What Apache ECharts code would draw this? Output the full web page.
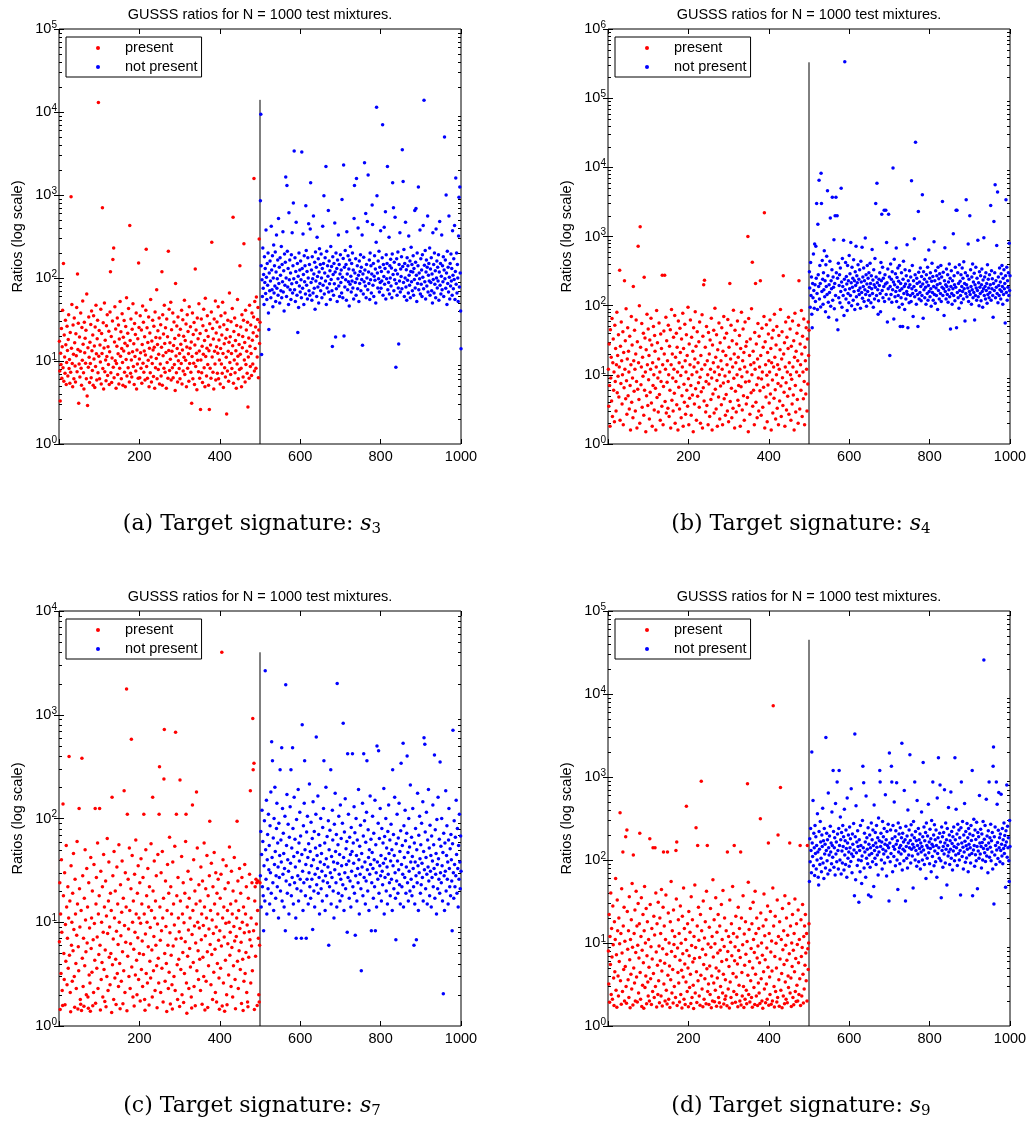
<!DOCTYPE html>
<html><head><meta charset="utf-8">
<script src="https://cdn.jsdelivr.net/npm/echarts@6/dist/echarts.min.js"></script>
<style>html,body{margin:0;padding:0;background:#fff}#c{width:1031px;height:1124px}</style>
</head><body><div id="c"></div><script>
// ---- data (x = test mixture index) ----
// (a) target s3 : present = mixtures 1..500, not present = 501..1000
const aPresent=[
17.3,7.6,3.3,12.4,9.1,24.6,6.2,14.8,41,8.3,150,5.7,20.5,11.2,7.1,31,15.7,5.2,9.6,26.3,13.4,6.6,18.2,36,8.1,
10.4,5.4,22.1,7.3,950,14.2,48,9.3,4.9,27.2,12.1,6.1,33,16.6,8.7,5.6,21.3,11.6,44,7.4,112,13.8,28.5,3.1,9.2,
19.4,6.4,13.1,38,8.2,5.1,25.3,10.2,53,15.9,7.2,4.6,29.4,12.6,18.8,9.4,23.4,6.1,64,3.8,2.9,14.4,8.4,34,11.1,
5.5,16.8,9.3,27.6,6.3,40,13.3,7.7,20.6,5.1,35,10.6,15.2,4.8,25.6,8.6,47,12.2,5.9,18.6,31,7.2,13000,11.4,23.3,
6.1,15.6,9.7,42,5.3,21.4,12.3,700,8.1,28.8,4.6,14.3,50,7.4,17.8,10.3,5.8,26.6,11.3,36,6.7,14.9,9.1,22.8,5.2,
12.9,39,119,7.2,19.7,5.5,10.9,30.3,167,8.4,230,6.3,16.9,45,10.1,24.3,4.7,9.3,15.1,33,6.9,12.2,27.1,5.3,18.4,
8.2,52,11.4,22.5,6.1,14.1,37,9.6,5.1,19.3,13.2,30.7,7.3,16.4,4.9,26.1,10.4,58,6.6,15.3,21.6,8.3,43,12.4,5.6,
430,17.6,7.1,32,10.3,6.4,24.2,12.9,49,8.6,16.1,5.2,28.3,11.3,20.9,7.6,38,4.6,13.6,9.2,18.5,6.2,152,25.4,10.6,
6.3,35,12.6,8.2,23.6,5.4,15.8,46,9.4,29.2,7.3,13.2,19.6,5.9,11.8,41,222,8.6,25.1,6.2,16.7,10.2,34,4.9,14.2,
21.7,7.2,55,11.2,5.6,17.4,9.3,31,13.6,6.5,26.2,14.6,4.7,39,8.3,19.2,10.7,72,6.1,15.8,23.1,7.9,12.1,33,5.3,
18.9,9.2,27.3,6.6,14.6,119,5.1,36,11.6,21.2,8.2,47,16.2,7.3,25.2,12.7,4.7,32,9.6,19.6,6.2,210,13.4,42,7.7,
16.6,10.5,51,5.9,23.8,13.1,8.3,38,6.3,15.4,29.6,9.1,18.7,4.4,86,11.5,7.2,26.4,14.1,5.6,34,10.1,20.4,8.1,12.3,
6.1,24.1,15.9,9.3,41,5.3,13.6,31.4,7.6,19.9,11.1,54,6.9,17.6,10.2,27.9,4.9,14.7,36,8.2,22.6,12.2,5.7,45,9.3,
14.2,25.8,7.3,16.9,3.1,11.3,38,6.1,20.8,9.4,29.1,5.2,15.6,128,8.6,23.7,12.4,4.5,33,10.2,18.5,7.4,49,13.2,6.2,
21.4,2.6,10.3,32,7.2,15.1,5.5,26.6,12.1,42,8.3,17.7,4.9,57,11.3,23.3,6.6,14.2,35,9.1,19.7,5.1,13.3,2.6,28.1,
8.2,15.6,6.2,39,270,11.2,24.7,7.3,18.4,4.6,32,13.1,9.2,53,5.9,21.7,14.9,29.5,7.1,12.4,45,6.1,17.9,10.3,25.7,
5.3,14.1,35,9.2,20.6,7.1,51,12.3,4.8,27.4,16.1,8.3,38,6.4,18.8,11.1,2.3,23.9,7.6,31,13.1,5.7,16.8,66,9.6,
19.6,6.9,29.8,12.3,8.1,43,15.3,540,5.4,22.6,10.3,33,7.2,17.6,13.3,4.7,26.8,9.2,55,11.4,6.1,20.7,15.8,7.9,140,
12.1,25.6,8.2,4.9,36,14.4,19.8,6.4,31,258,10.3,16.7,5.6,41,9.1,23.6,13.1,7.1,29.3,2.8,11.2,18.9,6.2,47,15.1,
8.6,27.1,12.3,6.7,38,17.8,9.2,21.9,34,1580,7.6,52,14.1,25.6,8.2,59,19.9,11.2,31.6,44,6.3,23.6,295,16.2,29.2];
const aNotPresent=[
850,9400,140,12,95,60,230,75,110,48,180,88,130,65,380,102,55,150,82,200,38,24,115,70,160,
92,58,420,125,72,185,45,100,250,66,140,80,205,52,118,330,75,98,165,62,520,86,135,50,175,
108,70,240,58,145,90,360,68,122,40,195,82,155,1650,100,60,1300,210,78,130,48,610,95,165,72,
115,55,190,85,350,66,140,800,98,3400,72,175,52,120,470,88,62,150,22,105,44,200,80,125,68,
160,95,58,3300,130,75,340,110,48,185,90,140,64,740,215,82,120,56,175,100,450,70,145,62,390,
1400,88,125,54,180,98,66,560,112,75,155,42,205,92,135,60,310,104,78,170,50,118,225,86,145,
70,195,100,58,130,420,82,150,980,64,115,175,92,2200,48,210,76,140,105,650,68,160,85,122,55,
240,96,138,70,15,180,110,62,150,85,460,118,19.5,200,74,130,52,165,98,330,80,145,60,112,190,
88,125,66,880,102,58,172,2300,20,135,78,215,95,145,54,360,112,72,185,90,128,46,165,84,240,
105,68,150,92,200,76,125,56,520,1300,115,88,170,62,1580,98,140,74,400,108,52,160,86,120,190,
70,135,96,330,15.5,112,64,178,90,2450,125,80,600,58,145,100,480,72,1740,118,86,165,55,200,95,
140,66,112,760,440,82,150,60,105,185,94,128,50,270,11400,980,115,76,160,98,210,68,135,88,370,
75,120,92,175,7000,62,145,104,410,84,130,630,56,190,98,150,2200,72,118,88,310,64,140,100,168,
80,132,58,195,1400,110,700,70,155,95,540,124,8.4,86,170,62,112,205,76,16,145,92,350,68,128,
104,180,74,3500,138,1450,88,220,60,150,100,470,78,126,54,175,94,140,66,320,108,82,160,58,120,
235,90,145,70,118,185,62,130,96,650,76,155,690,108,52,200,86,140,1250,72,115,98,380,64,170,
84,125,60,190,102,430,74,13900,142,90,215,56,118,165,80,135,560,68,108,150,92,230,62,128,88,
175,70,112,50,350,96,145,66,200,84,122,58,390,100,160,76,135,92,190,54,118,480,82,150,64,
105,330,72,140,90,180,60,125,5000,98,165,75,1000,115,48,210,86,135,68,560,102,56,150,80,195,
92,130,62,370,108,74,170,96,430,55,120,1600,84,200,66,145,100,52,320,940,78,1250,115,40,14];
// (b) target s4
const bPresent=[
12,3.5,28,7,1.8,45,9,18,4.2,65,2.5,15,33,6,11,2.1,52,8,24,3,14,80,5.5,19,9.5,
38,4.8,13,325,2.2,26,7.5,58,16,3.8,10,42,1.9,21,6.5,230,12,31,4.5,90,8.2,2.7,17,48,5,
22,11,3.2,36,7,1.6,14,70,4,27,9,2.4,190,16,5.8,44,12,3,20,62,8,1.7,30,6.2,720,
15,4.4,100,2,1380,25,7.2,13,55,3.4,18,9.5,40,2.6,257,6,34,11,1.5,23,5,75,14,3.6,46,
8.5,19,2.3,32,5.6,12,66,3.9,27,1.8,15,7,50,10,3.1,37,22,6.4,1.6,13,85,4.7,29,9,2.9,
17,56,5.2,11,2.2,39,8,24,3.5,275,14,1.9,6.8,43,20,275,4.1,12,68,2.8,31,7.8,16,3.3,52,
10,2.5,26,6,45,1.7,14,88,4.3,20,9,3,35,12,5.4,72,2,18,8,40,3.7,25,11,1.6,60,
6.6,15,3.2,47,21,9.8,2.4,33,5,13,78,1.8,24,7.3,4,54,16,2.7,11,38,6,19,3.5,95,8.8,
1.9,28,4.6,14,62,7,2.6,35,10,5.1,22,1.5,48,13,3.8,17,82,6.3,26,2.2,11,42,4.9,15,7.7,
30,3.4,58,9.2,2,19,5.7,12,74,1.7,36,6.5,200,4.2,233,14,25,2.9,8,50,3.6,16,10,1.9,41,
7.4,20,2.5,32,12,4.4,66,9,1.6,27,5.3,15,44,2.8,11,92,6.2,18,3.2,38,8.3,1.8,23,13,4.8,
56,10,2.3,29,6.9,16,3.7,48,12,1.9,22,7.6,70,4.5,34,9.6,2.6,19,5.2,40,14,3,63,8,2.1,
25,11,210,4.1,17,52,6.4,2.4,31,13,3.3,86,8.9,20,1.7,44,5.8,15,2.9,28,10,60,4.3,18,7,
3.6,37,12,1.8,24,6.7,80,9.4,3.1,16,46,5,21,2.2,13,58,7.9,26,3.8,30,11,4.7,1000,1.5,65,
8.1,19,2.7,33,14,5.5,90,10,425,3.5,22,6,15,1.9,41,12,210,4,28,7.2,2.4,17,55,9,3,
36,13,5.9,230,19,2.6,8.7,47,11,3.4,25,6.6,70,2200,1.7,30,14,4.8,53,9.9,2.1,21,7.1,39,16,
3.9,11,62,5.3,24,1.6,15,34,8.4,2.8,44,13,4.6,75,18,6.1,2.3,27,10,50,3.3,14,7.5,1.9,37,
12,4.2,23,88,6.9,2.5,17,42,9.1,3.6,270,20,5.6,29,1.8,13,58,7.7,3.1,35,11,4.9,24,68,2.7,
15,6.3,46,10,2.2,26,8.6,3.8,60,13,5.1,31,1.6,18,78,7,2.9,22,11,40,4.4,16,2,52,230,
9.7,3.2,28,14,6,85,20,2.5,36,11,4.5,64,8,1.9,25,16,5.3,48,12,3,33,7.4,58,19,44];
const bNotPresent=[
310,180,95,420,140,260,75,48,210,130,560,165,92,780,200,115,720,250,3000,150,88,1500,280,190,6500,
125,380,210,96,8200,3000,160,450,240,105,300,170,620,135,230,82,390,190,520,145,4600,270,112,68,200,
155,440,1850,98,230,175,330,3700,120,260,185,900,90,210,2000,140,3700,300,62,2000,250,45,410,130,195,
280,110,350,160,5000,220,95,480,190,140,880,72,240,335000,170,420,125,265,205,85,380,150,230,110,530,
175,290,140,820,215,100,360,185,250,120,460,160,230,88,310,195,720,135,270,215,105,390,165,240,145,
330,180,92,440,220,155,700,128,260,190,350,115,230,170,950,145,280,98,205,380,160,250,120,300,185,
140,410,210,110,270,175,650,150,235,95,330,200,125,480,185,3000,260,140,5900,215,170,75,118,240,195,
300,150,82,420,230,2100,165,360,130,250,190,2400,115,280,205,2400,145,820,215,58,340,175,2100,125,260,
19,190,400,145,240,112,310,170,9800,220,64,470,200,135,290,160,680,115,255,185,350,140,225,95,380,
165,50,210,130,300,175,105,50,240,440,150,190,88,330,205,125,270,160,760,145,48,230,185,110,320,
200,140,260,115,6400,175,380,150,70,230,190,930,135,280,23000,165,105,250,210,145,50,2300,305,125,220,
155,350,190,118,265,140,4000,205,66,310,170,240,130,460,185,105,280,220,150,360,120,195,640,160,250,
135,300,175,98,225,410,155,265,120,190,840,145,230,108,320,180,140,270,200,88,360,165,245,125,290,
210,150,380,115,260,185,3200,140,305,175,72,230,690,160,200,125,340,190,145,280,112,220,170,400,135,
250,46,190,320,150,105,230,175,1100,140,270,200,118,360,185,2400,48,2400,155,300,130,210,92,390,165,
225,140,280,110,190,350,160,250,125,430,175,210,60,300,150,3400,200,135,270,180,780,115,240,160,2000,
145,330,190,105,260,170,400,130,220,155,295,62,200,140,360,180,120,250,165,880,135,215,100,310,185,
150,270,118,200,340,160,95,235,175,960,140,260,190,125,300,165,210,108,390,145,240,180,130,280,155,
200,2800,120,320,175,245,140,68,210,1650,165,300,5600,130,230,185,740,150,4400,110,260,195,140,350,170,
220,125,290,160,380,190,105,250,145,330,175,210,56,270,3400,155,360,120,230,185,300,140,800,165,270];
// (c) target s7
const cPresent=[
6.5,24,1.44,12,3.2,40,8,2.2,1.58,138,18,5,2.8,30,1.6,9.5,4.2,55,14,2.5,7,22,3.6,11,395,
4.8,16,2.1,1.37,35,6,10,2.7,19,5.3,46,8.5,3,1.52,26,12,4,2.3,7.5,60,15,1.46,5.8,3.4,125,
21,9,1.8,1.62,13,1.41,380,4.5,28,2.4,7,1.55,17,3.8,50,10.5,5.2,2,33,6.3,14,1.9,1.48,24,3.1,
8.8,2.6,1.39,42,5.6,11,3.3,20,1.57,6.8,2.1,36,9.7,4.3,125,1.66,15,27,3.6,7.2,58,2.3,12,4.9,18,
125,6,1.43,31,2.8,10,4.1,22,1.9,8,45,3.5,14,1.72,5.4,25,1.53,11.5,3,64,7.8,2.2,16,38,4.6,
9,2.5,19,5,13,1.35,160,3.9,28,6.9,1.8,48,11,2.9,20,4.4,1.61,8.2,34,3.2,15,6.1,2.4,56,10,
4,1.47,23,7.4,2.7,12.5,39,5.2,1.64,17,3.4,185,9.3,2.1,30,6.4,14,1770,1.4,110,4.7,26,8.6,3,52,
13,2.3,6.2,21,580,3.7,44,10,1.9,16,5.5,1.56,29,8,3.1,62,12,4.3,2,19,7.1,35,2.8,11,5,
24,1.74,9.8,41,3.5,15,6.6,2.4,27,4.9,110,12,1.8,1.42,7.7,50,3.2,18,10,2.6,33,5.8,14,1.59,22,
4.2,8.9,2.9,57,13,5.4,1.9,160,20,3.4,7.3,39,11,2.2,16,6,28,3.8,1.5,9.6,45,4.5,2.6,110,315,
14,6.7,2.1,30,8.3,3.6,48,11,1.7,17,240,720,5,2.7,25,9.1,4,1.38,13,36,6,2.3,19,3.3,66,
7.9,1.63,22,4.8,12,2.5,1.46,38,5.9,15,3,9.4,54,2.2,680,6.9,110,18,3.9,1.8,27,11,4.4,8.1,1.54,
235,16,3.5,7,43,2,12,5.1,24,1.68,9.9,3.2,19,6.5,60,110,2.6,1.33,14,4.7,31,8.4,2.3,17,5.6,
11,3.7,26,1.9,1.49,7.6,135,13,4.1,40,2.4,9.2,20,1.57,6.3,15,180,3.4,52,10,5.3,2.8,23,8.8,4.4,
16,2.2,34,6.8,12,1.62,25,4.6,9.3,3,58,14,1.43,7.4,21,2.7,11,44,5.2,1.51,18,3.8,8.6,28,94,
6.1,13,2.5,37,4.9,10.5,1.8,22,7.8,3.3,47,15,5.5,2.1,30,9,1.7,19,4,12,26,6.7,2.9,1.45,8.3,
17,3.6,29,5.9,4000,1.56,11,40,2.6,14,7.2,1.39,21,4.3,9.8,35,2,1.6,13,6.2,24,3.1,10,53,4.8,
8,15,2.4,31,5.7,12,1.9,20,3.8,9.1,42,6.6,2.8,1.47,16,7.3,11,94,4.2,25,2.3,13,5.3,33,8.7,
3.5,19,6.4,1.65,27,10,4.4,1.41,14,2.7,7.9,36,3.2,12,5.1,22,2.1,9.4,1.7,1.53,17,4.6,8.1,29,6.8,
185,2.6,11,5.9,24,3.4,920,295,8.3,340,1.44,16,22,4.7,26,9.6,24,1.58,13,25,7,2,1.7,6,24];
const cNotPresent=[
28,75,14,45,120,22,60,18,8.3,35,95,16,2650,50,26,150,12,40,70,21,110,32,55,15,85,
30,180,19,550,42,360,24,65,13,100,36,200,48,17,28,80,140,22,58,34,11,90,27,44,295,
20,62,38,480,16,125,29,72,46,14,33,105,8.3,1950,25,55,170,19,40,88,31,12,66,23,130,
37,295,18,52,27,480,80,15,43,160,24,63,34,11,7,98,21,47,28,190,16,58,39,115,26,
68,20,7,45,800,31,13,85,24,140,360,50,18,36,7,74,26,105,42,15,57,30,215,22,48,
17,92,35,26,64,8.5,145,40,20,75,14,29,52,110,610,23,44,33,165,19,70,27,12,55,38,
100,21,46,31,16,82,25,125,360,36,58,13,28,200,41,18,67,24,34,95,6,50,22,77,30,
295,15,43,27,120,62,20,38,11,88,32,175,48,24,70,14,2000,37,56,19,105,29,45,16,135,
26,64,35,18,90,23,830,42,13,74,30,155,21,51,36,60,8,420,27,110,39,17,66,25,45,
14,82,31,48,420,22,58,37,130,19,73,7.5,28,100,44,16,62,33,24,190,40,12,54,29,86,
21,3.4,46,34,140,18,68,420,27,95,38,15,59,25,115,360,32,20,78,42,13,50,29,165,36,
63,8.3,24,47,105,33,17,72,40,22,150,8.3,56,30,14,500,38,26,90,450,19,64,35,125,28,
44,16,80,31,23,58,37,195,12,67,27,41,100,20,52,34,15,75,29,135,46,24,62,18,39,
88,26,50,13,295,35,70,21,44,160,30,17,6.8,57,25,110,39,19,65,32,140,23,48,15,76,
340,36,22,55,29,530,14,85,42,27,120,61,19,34,72,400,24,47,16,100,31,53,20,210,38,
26,66,18,43,125,33,22,6,58,15,38,80,28,6.8,50,24,175,35,13,69,30,105,41,19,56,
23,90,37,27,145,16,48,600,32,520,74,21,42,115,29,15,62,34,190,25,52,18,86,31,44,
14,68,27,39,135,22,56,33,410,17,78,29,46,12,98,36,21,160,41,26,63,19,350,30,54,
24,100,35,16,47,2.05,72,28,13,58,31,185,20,44,85,26,38,15,62,125,33,22,51,18,70,
40,25,8.3,57,710,30,17,95,36,22,66,28,150,45,19,80,33,14,55,26,110,38,21,68,31];
// (d) target s9
const dPresent=[
8,3.2,22,1.93,12,5.5,40,2.4,15,6.8,2.1,28,9.5,3.8,1.76,18,4.5,11,60,2.7,7.2,1.68,33,14,4,
2.3,20,6,9.8,370,3.5,13,1.83,45,7.6,2.6,125,16,4.8,27,2,10.5,5.2,190,3,1.88,230,24,8.4,3.6,
14,2.2,36,6.3,1.66,11,4.2,19,2.8,52,8.9,1.79,115,5,13,3.3,25,2,7.7,42,3.9,16,1.95,9.4,30,
2.5,6.6,17,210,4.4,2.1,12,35,1.72,8.2,3.1,22,5.8,1.64,14,48,2.9,10,4,26,1.86,7,18,3.4,2.3,
11,5.1,2,180,29,3.7,9,1.81,15,6.4,2.6,140,4.3,21,2.2,12.5,140,3,40,7.8,1.69,17,5.4,2.4,31,
3.5,9.2,1.91,20,6.1,13,2.3,44,4.6,1.74,8.5,27,125,3.2,16,5.7,2,11,38,2.7,7.3,1.84,125,4.1,23,
2.1,10,5.3,1.67,18,3.6,55,7.9,2.5,14,4.8,1.89,25,9.6,3,12,6.9,2.2,130,34,165,1.77,8.7,4.4,19,
3.3,13,1.94,6.2,28,2.4,9.9,4.7,1.65,21,7.4,3.9,46,2.1,15,5.6,1.82,11,3.4,445,8.1,2.6,17,5,1.71,
24,7,2.9,13.5,4.2,1.87,36,9.3,2.2,19,5.9,3.1,1.63,12,6.5,50,2.5,8.8,245,4.5,1.92,16,150,3.5,27,
10.8,2.3,6.7,1.78,22,4.1,890,14,2.8,8.4,1.7,32,5.5,2.1,11.5,3.7,18,7.2,1.85,42,4.9,150,2.6,9.7,3.2,
1.81,15.5,5.3,2.4,26,8.9,1.66,4,12,2,58,6.8,3.3,19,1.96,9.8,2.7,35,5,1.73,13.5,3.8,7.6,22,2.2,
4.6,1.9,16,8.2,3,1.69,29,6,11,2.5,43,4.2,1.84,9.1,20,2.1,3.6,2.3,14,6.3,1.75,125,7.9,2.8,12,
5.2,1.65,33,3.4,10.2,2.2,17,7,1.88,48,4.3,13,2.6,150,6.1,9,1.93,21,3.9,2.4,11.8,5.6,1.71,27,8.1,
3.1,15,2,6.7,125,1.79,20,4.4,2.3,9.5,37,3,1.67,12.8,5.4,2.1,18,7.3,2.7,1.86,10.4,830,4.1,54,2.4,
14.5,6,1.94,26,3.5,8.6,2.2,17,1.68,5,31,11,2.9,7.7,1.82,42,4.2,13,2.3,20,6.6,1.76,9.2,3.3,15,
2.5,5.8,1.87,315,23,3.7,10,2,7.1,1.64,16,4.5,39,2.8,12.2,6.3,1.91,19,3.2,8.7,2.1,28,5.1,160,1.78,
13,3.9,2.4,24,7.8,1.83,10.6,4.6,2,46,7200,16,3,1.69,6.9,21,2.6,9.9,5,1.95,33,2.2,200,12,3.6,
1.73,18,6.4,745,2.7,11,4.3,1.66,26,8.3,2.3,14,5.5,1.85,37,3.4,9.4,2.1,20,6.2,1.9,12.4,4,2.9,30,
7.4,160,2.5,16,3.8,1.72,10,5.2,22,2.2,8.2,1.8,13,4.5,34,2.6,6.5,1.97,17,3.1,9.6,2,25,5.8,2.4,
11,3.7,150,1.76,19,6.9,2.3,8.8,29,4.2,1.89,12,2.8,16,5.4,22,7.6,3.5,13,2,150,8.5,4.8,10,17];
const dNotPresent=[
55,180,95,240,130,70,2000,160,110,520,85,210,140,65,260,120,190,78,150,100,360,125,62,50,220,
135,88,290,165,105,72,200,145,420,92,170,60,240,118,155,80,3000,130,210,98,175,68,640,140,115,
195,75,255,125,160,90,380,150,108,1200,220,82,140,185,66,480,118,165,95,870,205,130,78,240,1200,
150,100,330,175,68,215,128,92,260,145,190,76,410,115,170,88,230,138,62,560,160,105,200,125,84,
250,140,180,96,720,118,70,205,155,110,275,132,37,3300,190,58,450,122,165,86,225,145,100,31,175,
130,72,260,150,98,52,112,300,1350,140,850,80,210,125,165,62,590,105,185,135,90,245,38,155,115,
200,82,140,36,280,120,175,95,230,150,48,460,130,105,215,160,88,260,142,115,185,66,320,125,170,
1200,870,145,210,100,165,78,290,135,190,118,240,92,155,610,128,175,64,220,150,108,270,140,32,1950,
160,95,230,120,1350,870,180,72,260,145,110,500,135,190,85,225,155,850,100,170,44,280,125,205,140,
90,245,150,118,185,2550,76,210,135,165,98,690,128,175,32,255,145,105,195,80,400,160,115,230,140,
1860,172,92,265,135,200,112,155,46,290,142,185,870,100,220,130,170,84,520,150,118,240,95,175,138,
205,78,160,125,380,145,100,190,1500,132,250,88,170,115,215,60,280,150,105,195,140,470,122,165,90,
235,138,180,72,300,155,110,870,145,200,85,265,128,175,95,230,150,62,560,120,185,1700,140,105,210,
800,165,98,35,250,130,190,82,145,215,118,700,160,92,280,135,175,50,240,150,112,430,125,200,88,
170,135,660,105,220,158,76,190,128,250,145,98,1700,175,115,410,140,205,86,270,155,120,230,100,185,
130,38,245,870,160,110,290,142,78,200,125,480,168,94,220,148,106,275,135,185,72,240,155,115,205,
140,92,260,172,120,1200,37,198,132,310,150,84,230,116,176,98,285,145,45,215,128,190,105,600,160,
118,235,145,80,205,162,100,290,138,25700,178,122,260,96,150,540,112,195,135,70,225,160,870,108,185,
142,270,98,170,125,215,78,1350,2300,29.5,190,115,250,150,88,870,132,470,162,104,228,650,140,185,95,
205,130,620,155,112,240,90,175,138,280,120,198,150,47,225,165,800,108,255,140,185,98,55,300,145];

const splitX = 500;                            // boundary between the two groups
const lineTops = [14000, 330000, 4000, 45000]; // top of the divider line in each panel
const yMaxExp = [5, 6, 4, 5];                  // y axis: 10^0 .. 10^yMaxExp
const xTickValues = [0, 200, 400, 600, 800, 1000];
const seriesNames = ['present', 'not present'];
const panelTitle = 'GUSSS ratios for N = 1000 test mixtures.';
const yAxisName = 'Ratios (log scale)';
const captionLetters = ['a', 'b', 'c', 'd'];
const signatureIdx = ['3', '4', '7', '9'];

// ---- build chart ----
const presentSets = [aPresent, bPresent, cPresent, dPresent];
const absentSets = [aNotPresent, bNotPresent, cNotPresent, dNotPresent];
const FONT = '"Liberation Sans", Arial, Helvetica, sans-serif';
const SERIF = '"DejaVu Serif", "Liberation Serif", serif';
const W = 402, H = 415;
const layout = [{left: 59, top: 29}, {left: 608, top: 29}, {left: 59, top: 611}, {left: 608, top: 611}];

const grid = [], xAxis = [], yAxis = [], series = [], title = [], legend = [];

layout.forEach((L, i) => {
  grid.push({left: L.left, top: L.top, width: W, height: H, show: true, borderColor: '#000', borderWidth: 1,
    backgroundColor: 'transparent', containLabel: false, outerBoundsMode: 'none'});
  const xMax = xTickValues[xTickValues.length - 1];
  const xBase = {type: 'value', gridIndex: i, min: xTickValues[0], max: xMax, interval: 200,
    axisLine: {show: false}, splitLine: {show: false},
    axisTick: {show: true, inside: true, length: 5, lineStyle: {color: '#000', width: 1}}};
  xAxis.push(Object.assign({}, xBase, {position: 'bottom',
    axisLabel: {show: true, formatter: v => v === 0 ? '' : String(v), fontFamily: FONT, fontSize: 14.5, color: '#000', margin: 5,
      showMinLabel: true, showMaxLabel: true}}));
  xAxis.push(Object.assign({}, xBase, {position: 'top', axisLabel: {show: false}}));
  const e = yMaxExp[i];
  const yBase = {type: 'log', logBase: 10, gridIndex: i, min: 1, max: Math.pow(10, e), splitNumber: e,
    axisLine: {show: false}, splitLine: {show: false}, minorTick: {show: false},
    axisTick: {show: true, inside: true, length: 5, lineStyle: {color: '#000', width: 1}}};
  yAxis.push(Object.assign({}, yBase, {position: 'left',
    name: yAxisName, nameLocation: 'middle', nameGap: 34,
    nameTextStyle: {fontFamily: FONT, fontSize: 14.5, color: '#000'},
    axisLabel: {show: true, margin: 2,
      formatter: v => '{b|10}{s|' + Math.round(Math.log10(v)) + '}',
      rich: {b: {fontFamily: FONT, fontSize: 14.5, color: '#000', lineHeight: 18},
             s: {fontFamily: FONT, fontSize: 10, color: '#000', lineHeight: 10, verticalAlign: 'top'}}}}));
  yAxis.push(Object.assign({}, yBase, {position: 'right', axisLabel: {show: false}}));

  // minor log ticks (2..9 x 10^k) on left and right edges
  const minor = [];
  for (let k = 0; k < e; k++) for (let m = 2; m <= 9; m++) minor.push([0, m * Math.pow(10, k)]);
  series.push({type: 'custom', xAxisIndex: 2 * i, yAxisIndex: 2 * i, silent: true, z: 1, clip: false,
    data: minor,
    renderItem: (params, api) => {
      const v = api.value(1);
      const pl = api.coord([0, v]);
      const pr = api.coord([xMax, v]);
      const y = Math.round(pl[1]) + 0.5;
      return {type: 'group', children: [
        {type: 'line', shape: {x1: pl[0], y1: y, x2: pl[0] + 3, y2: y}, style: {stroke: '#000', lineWidth: 1}},
        {type: 'line', shape: {x1: pr[0] - 3, y1: y, x2: pr[0], y2: y}, style: {stroke: '#000', lineWidth: 1}}
      ]};
    }});

  series.push({type: 'scatter', name: seriesNames[0], xAxisIndex: 2 * i, yAxisIndex: 2 * i,
    data: presentSets[i].map((v, k) => [k + 1, v]), symbol: 'circle', symbolSize: 3.5,
    itemStyle: {color: '#ff0000', opacity: 1}, z: 3, silent: true});
  series.push({type: 'scatter', name: seriesNames[1], xAxisIndex: 2 * i, yAxisIndex: 2 * i,
    data: absentSets[i].map((v, k) => [presentSets[i].length + k + 1, v]), symbol: 'circle', symbolSize: 3.5,
    itemStyle: {color: '#0000ff', opacity: 1}, z: 3, silent: true});
  series.push({type: 'line', xAxisIndex: 2 * i, yAxisIndex: 2 * i, data: [[splitX, 1], [splitX, lineTops[i]]],
    symbol: 'none', lineStyle: {color: '#000', width: 1}, z: 2, silent: true});

  title.push({text: panelTitle, left: L.left + W / 2, top: L.top - 23, textAlign: 'center', padding: 0,
    textStyle: {fontFamily: FONT, fontSize: 14.5, fontWeight: 'normal', color: '#000', lineHeight: 17}});
  title.push({text: '(' + captionLetters[i] + ') Target signature: {it|s}{sub|' + signatureIdx[i] + '}',
    left: L.left + 193, top: L.top + H + 67, textAlign: 'center', padding: 0,
    textStyle: {fontFamily: SERIF, fontSize: 22, fontWeight: 'normal', color: '#000', lineHeight: 26,
      rich: {it: {fontFamily: SERIF, fontSize: 22, fontStyle: 'italic', color: '#000', lineHeight: 26},
             sub: {fontFamily: SERIF, fontSize: 15, color: '#000', lineHeight: 16, verticalAlign: 'bottom'}}}});

  legend.push({show: true, orient: 'vertical', left: L.left + 7, top: L.top + 8, data: seriesNames,
    icon: 'circle', itemWidth: 4, itemHeight: 4, itemGap: 3, padding: [3, 4, 2, 30],
    borderColor: '#000', borderWidth: 1, borderRadius: 0, backgroundColor: '#fff', selectedMode: false, z: 10,
    formatter: name => '{t|' + name + '}',
    textStyle: {fontFamily: FONT, fontSize: 14.5, color: '#000', lineHeight: 16,
      rich: {t: {fontFamily: FONT, fontSize: 14.5, color: '#000', lineHeight: 16, padding: [0, 0, 0, 20]}}}});
});

const chart = echarts.init(document.getElementById('c'), null, {renderer: 'canvas'});
chart.setOption({animation: false, backgroundColor: '#fff', grid, xAxis, yAxis, series, title, legend, tooltip: {show: false}});
</script></body></html>
